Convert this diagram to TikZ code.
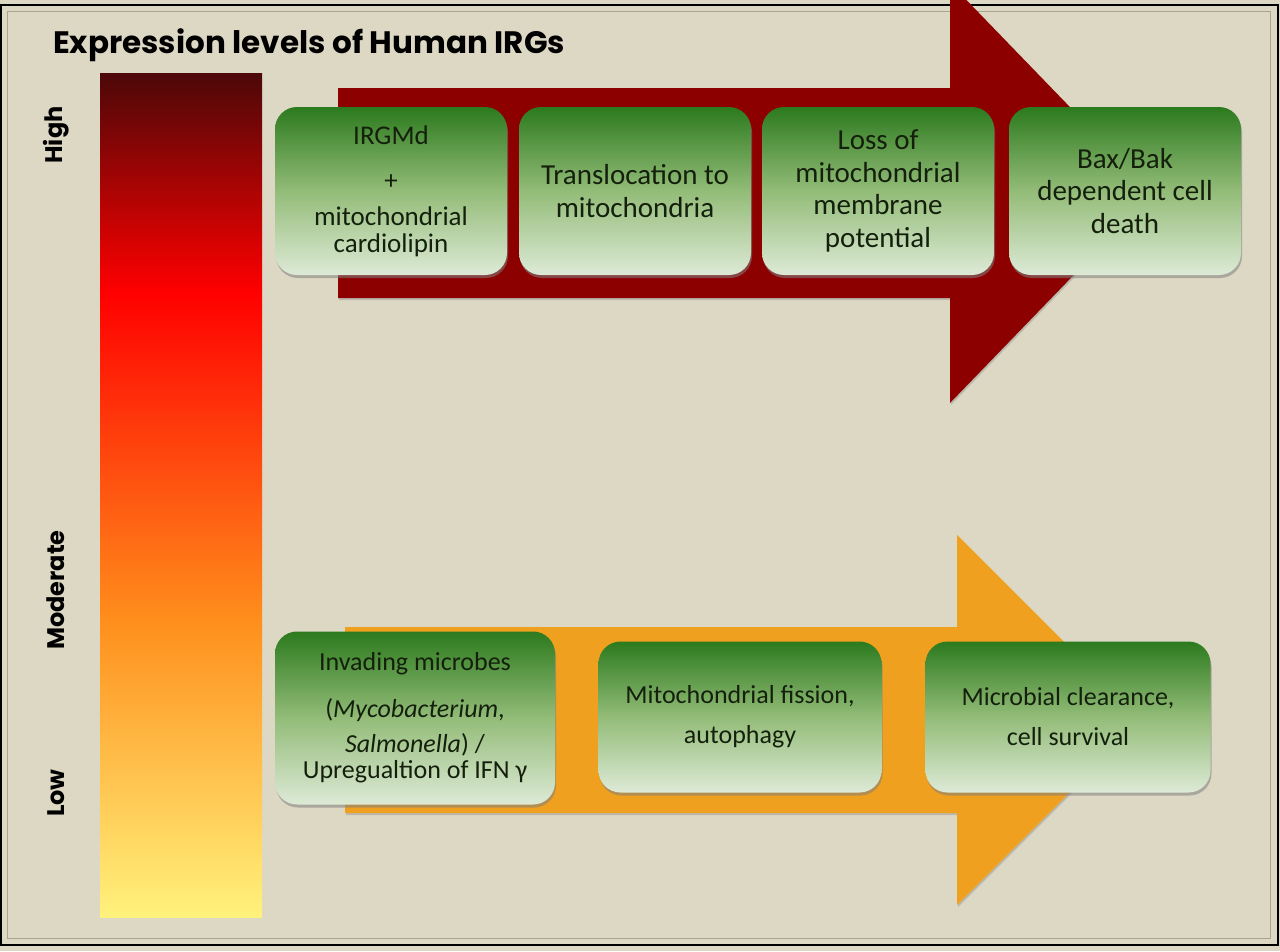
\documentclass[tikz,border=0pt]{standalone}
\usepackage{fontspec}
\setmainfont{Carlito}
\newfontfamily\headfont{Poppins}
\usetikzlibrary{shadows}
\definecolor{paper}{HTML}{DDD8C4}
\definecolor{rim}{HTML}{A9A58F}
\definecolor{deepred}{HTML}{8C0000}
\definecolor{amber}{HTML}{EFA01E}
\definecolor{gtop}{HTML}{2C7A1E}
\definecolor{gmid}{HTML}{93BC78}
\definecolor{gbot}{HTML}{DDEAD6}
\definecolor{boxtext}{HTML}{14200C}
\definecolor{barlow}{HTML}{FFF27C}
\definecolor{barmid}{HTML}{FF8F1C}
\definecolor{barhigh}{HTML}{FF0000}
\definecolor{bartop}{HTML}{4C0808}
% level bar: yellow at the bottom, dark red at the top
\pgfdeclareverticalshading{levelbar}{100bp}{color(0bp)=(barlow); color(25bp)=(barlow);
  color(42.5bp)=(barmid); color(62bp)=(barhigh); color(75bp)=(bartop); color(100bp)=(bartop)}
\begin{document}
\begin{tikzpicture}[x=1pt,y=-1pt,
    greenbox/.style={rounded corners=22pt,top color=gtop,bottom color=gbot,middle color=gmid,
      drop shadow={shadow xshift=1pt,shadow yshift=-3pt,opacity=.55},
      minimum width=232pt,minimum height=168pt,align=center,text=boxtext,inner sep=4pt,
      font=\fontsize{29}{32.5}\selectfont},
    lowbox/.style={greenbox,minimum width=283pt,minimum height=151pt,font=\fontsize{26}{26}\selectfont},
    lvl/.style={rotate=90,font=\headfont\bfseries\fontsize{24}{26}\selectfont}]
  \useasboundingbox (0,0) rectangle (1280,951);
  \clip (0,0) rectangle (1280,951);
  \fill[paper] (0,0) rectangle (1280,951);
  \draw[line width=2pt] (1,5) rectangle (1278,945);
  \draw[rim,line width=1pt] (7,11) rectangle (1270,938);
  % title and level scale
  \node[anchor=base west,inner sep=0pt,font=\headfont\bfseries\fontsize{31}{34}\selectfont] (title) at (53,53) {Expression levels of Human IRGs};
  \shade[shading=levelbar] (100,73) rectangle (262,917);
  \node[lvl] (high) at (56,135) {High};
  \node[lvl] (moderate) at (56,590) {Moderate};
  \node[lvl] (low) at (56,793) {Low};
  % block arrows
  \fill[deepred,drop shadow={shadow xshift=1pt,shadow yshift=-2pt,opacity=.35}]
    (338,88) -- (950,88) -- (950,-17) -- (1153,193) -- (950,403) -- (950,298) -- (338,298) -- cycle;
  \fill[amber,drop shadow={shadow xshift=1pt,shadow yshift=-2pt,opacity=.35}]
    (345,627) -- (957,627) -- (957,535) -- (1142,720) -- (957,905) -- (957,813) -- (345,813) -- cycle;
  % high expression
  \node[greenbox,font=\fontsize{27}{27}\selectfont] (irgmd) at (391,191) {IRGMd\\[18pt]+\\[9pt]mitochondrial\\cardiolipin};
  \node[greenbox] (transloc) at (635,191) {Translocation to\\mitochondria};
  \node[greenbox] (memloss) at (878,191) {Loss of\\mitochondrial\\membrane\\potential};
  \node[greenbox] (baxbak) at (1125,191) {Bax/Bak\\dependent cell\\death};
  % low expression
  \node[lowbox,minimum width=280pt,minimum height=173pt] (invade) at (415,718)
    {Invading microbes\\[21pt](\textit{Mycobacterium},\\[9pt]\textit{Salmonella}) /\\Upregualtion of IFN γ};
  \node[lowbox] (fission) at (740,717) {Mitochondrial fission,\\[14pt]autophagy};
  \node[lowbox,minimum width=285pt] (clearance) at (1068,717) {Microbial clearance,\\[14pt]cell survival};
\end{tikzpicture}
\end{document}
